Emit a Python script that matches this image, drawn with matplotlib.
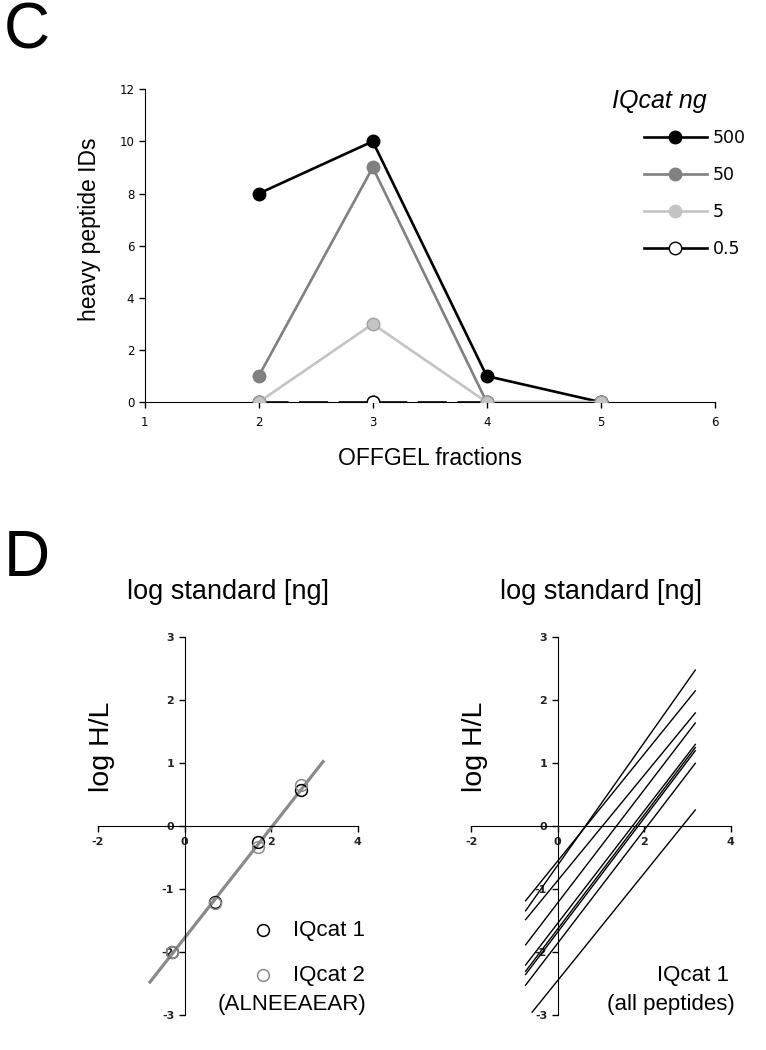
import matplotlib
matplotlib.use("Agg")
import matplotlib.pyplot as plt
from matplotlib.lines import Line2D
import numpy as np

# Panel C: heavy peptide IDs per OFFGEL fraction
fractions = [2, 3, 4, 5]
ids_500 = [8, 10, 1, 0]
ids_50 = [1, 9, 0, 0]
ids_5 = [0, 3, 0, 0]
ids_05 = [0, 0, 0, 0]
amount_labels = ["500", "50", "5", "0.5"]

# Panel D left: ALNEEAEAR, log standard [ng] vs log H/L
log_std = np.log10([0.5, 5, 50, 500])
iqcat1_ratio = [-2.0, -1.2, -0.25, 0.57]
iqcat2_ratio = [-2.0, -1.22, -0.33, 0.65]
fit_range = [-0.8, 3.2]

# Panel D right: IQcat 1 fit lines for all peptides (log H/L at each end)
pep_x_start = [-0.74, -0.74, -0.74, -0.74, -0.74, -0.74, -0.74, -0.74, -0.59]
pep_x_end = [3.18, 3.18, 3.18, 3.18, 3.18, 3.18, 3.18, 3.18, 3.18]
pep_y_start = [-1.18, -1.34, -1.48, -1.88, -2.20, -2.30, -2.35, -2.52, -2.95]
pep_y_end = [2.15, 2.48, 1.80, 1.64, 1.30, 1.25, 1.20, 1.00, 0.26]

plt.rcParams['font.family'] = ['DejaVu Sans']
plt.rcParams['axes.unicode_minus'] = False
fig = plt.figure(figsize=(7.66, 10.5), dpi=100)

sans = "Liberation Sans"

# ---------------- panel C ----------------
ax = fig.add_axes([0.189, 0.617, 0.744, 0.298])
ms = 9
lw = 1.9
ax.plot(fractions, ids_05, color="black", lw=lw, ls=(0, (11, 4)), marker="o",
        ms=ms, mfc="white", mec="black", zorder=2)
ax.plot(fractions, ids_500, color="black", lw=lw, marker="o", ms=ms, zorder=3)
ax.plot(fractions, ids_50, color="#808080", lw=lw, marker="o", ms=ms, zorder=4)
ax.plot(fractions, ids_5, color="#c4c4c4", lw=lw, marker="o", ms=ms,
        mec="#a0a0a0", zorder=5)
# redraw the 0.5 marker where nothing covers it
ax.plot([3], [0], ls="none", marker="o", ms=ms, mfc="white", mec="black", zorder=6)

ax.set_xlim(1, 6)
ax.set_ylim(0, 12)
ax.set_xticks(range(1, 7))
ax.set_yticks(range(0, 13, 2))
ax.spines["top"].set_visible(False)
ax.spines["right"].set_visible(False)
ax.tick_params(labelsize=8.5, length=4, width=1, colors="black")
ax.tick_params(axis="x", pad=6)
ax.set_xlabel("OFFGEL fractions", fontsize=16.5, family=sans, labelpad=13)
ax.set_ylabel("heavy peptide IDs", fontsize=16.5, family=sans)
ax.yaxis.set_label_coords(-0.076, 0.553)

handles = [
    Line2D([], [], color="black", lw=lw, marker="o", ms=ms),
    Line2D([], [], color="#808080", lw=lw, marker="o", ms=ms),
    Line2D([], [], color="#c4c4c4", lw=lw, marker="o", ms=ms),
    Line2D([], [], color="black", lw=lw, marker="o", ms=ms, mfc="white"),
]
ax.legend(handles, amount_labels, loc="upper left",
          bbox_to_anchor=(0.841, 0.877), bbox_transform=fig.transFigure,
          frameon=False, fontsize=12.5, handlelength=3.6, handletextpad=0.35,
          labelspacing=1.1, borderpad=0, borderaxespad=0)
fig.text(0.799, 0.904, "IQcat ng", fontsize=18, style="italic", family=sans,
         va="center")

fig.text(0.005, 0.97, "C", fontsize=46, family=sans, va="center")
fig.text(0.005, 0.468, "D", fontsize=46, family=sans, va="center")


def style_cross(a):
    a.set_xlim(-2, 4)
    a.set_ylim(-3, 3)
    a.spines["left"].set_position(("data", 0))
    a.spines["bottom"].set_position(("data", 0))
    a.spines["top"].set_visible(False)
    a.spines["right"].set_visible(False)
    a.set_xticks([-2, 0, 2, 4])
    a.set_yticks([-3, -2, -1, 0, 1, 2, 3])
    a.tick_params(labelsize=8, length=4, width=1)
    for tl in a.get_xticklabels() + a.get_yticklabels():
        tl.set_fontweight("bold")
        tl.set_color("#222222")


# ---------------- panel D left ----------------
axl = fig.add_axes([0.128, 0.033, 0.339, 0.360])
style_cross(axl)
slope, icpt = np.polyfit(np.concatenate([log_std, log_std]),
                         np.concatenate([iqcat1_ratio, iqcat2_ratio]), 1)
fx = np.array(fit_range)
axl.plot(fx, slope * fx + icpt, color="#8a8a8a", lw=2.3, zorder=2)
axl.plot(log_std, iqcat1_ratio, ls="none", marker="o", ms=8.5, mfc="none",
         mec="black", mew=1.1, zorder=3)
axl.plot(log_std, iqcat2_ratio, ls="none", marker="o", ms=8.5, mfc="none",
         mec="#8a8a8a", mew=1.1, zorder=3)
axl.text(0.5, 1.12, "log standard [ng]", transform=axl.transAxes, ha="center",
         va="center", fontsize=19.5, family=sans)
axl.text(0.015, 0.71, "log H/L", transform=axl.transAxes, rotation=90,
         ha="center", va="center", fontsize=20.5, family=sans)
axl.plot([1.82], [-1.65], ls="none", marker="o", ms=8.5, mfc="none", mec="black", mew=1.1,
         clip_on=False)
axl.plot([1.82], [-2.36], ls="none", marker="o", ms=8.5, mfc="none", mec="#8a8a8a", mew=1.1,
         clip_on=False)
axl.text(2.5, -1.65, "IQcat 1", fontsize=16, family=sans, va="center")
axl.text(2.5, -2.36, "IQcat 2", fontsize=16, family=sans, va="center")
axl.text(4.2, -2.82, "(ALNEEAEAR)", fontsize=16, family=sans, va="center", ha="right")

# ---------------- panel D right ----------------
axr = fig.add_axes([0.615, 0.033, 0.339, 0.360])
style_cross(axr)
for xs, xe, ys, ye in zip(pep_x_start, pep_x_end, pep_y_start, pep_y_end):
    axr.plot([xs, xe], [ys, ye], color="black", lw=1.0)
axr.text(0.5, 1.12, "log standard [ng]", transform=axr.transAxes, ha="center",
         va="center", fontsize=19.5, family=sans)
axr.text(0.015, 0.71, "log H/L", transform=axr.transAxes, rotation=90,
         ha="center", va="center", fontsize=20.5, family=sans)
axr.text(3.95, -2.36, "IQcat 1", fontsize=16, family=sans, va="center", ha="right")
axr.text(4.1, -2.82, "(all peptides)", fontsize=16, family=sans, va="center", ha="right")

fig.savefig("out.png", dpi=100)
